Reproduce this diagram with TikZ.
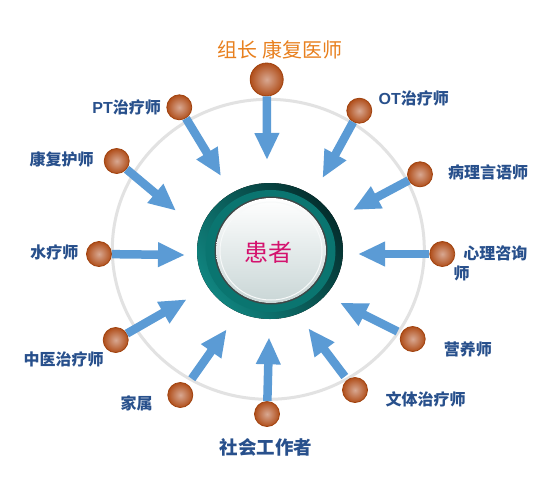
\documentclass[tikz,border=0pt]{standalone}
\usepackage{fontspec}
\newfontfamily\cjk{Noto Sans CJK SC}
\newfontfamily\lat{Liberation Sans}
\usetikzlibrary{arrows.meta}
\definecolor{txtblue}{HTML}{28508C}
\definecolor{arrblue}{HTML}{5B9BD5}
\definecolor{ringgray}{HTML}{E2E2E2}
\definecolor{ttl}{HTML}{E8801E}
\definecolor{ballin}{HTML}{D8A892}
\definecolor{ballout}{HTML}{B04E1A}
\definecolor{ballrim}{HTML}{A0420E}
\definecolor{tealA}{HTML}{10847F}
\definecolor{tealB}{HTML}{042E2D}
\definecolor{tealC}{HTML}{0A7570}
\definecolor{discring}{HTML}{3E4848}
\definecolor{discbot}{HTML}{C9D6D6}
\definecolor{pink}{HTML}{D4126E}
\begin{document}
\begin{tikzpicture}[x=1pt,y=-1pt,
  ball/.style={circle, inner sep=0pt, minimum size=25pt, inner color=ballin, outer color=ballout, draw=ballrim, line width=0.8pt},
  bigball/.style={ball, minimum size=33pt},
  lbl/.style={text=txtblue, font=\cjk\bfseries\fontsize{16}{19}\selectfont, inner sep=0pt, align=left},
  arr/.style={draw=arrblue, line width=8.5pt, -{Triangle[length=27pt,width=23pt]}},
]
\useasboundingbox (0,0) rectangle (554,480);
\fill[white] (0,0) rectangle (554,480);

% outer gray ring
\draw[ringgray, line width=3pt] (268.3,249.3) ellipse [x radius=156pt, y radius=150pt];

% centre disc
\fill[left color=tealA, middle color=tealA, right color=tealB, shading angle=125] (270,251) ellipse [x radius=73pt, y radius=68pt];
\fill[tealC] (270.5,251) ellipse [x radius=65pt, y radius=61pt];
\fill[discring] (271,250.5) ellipse [x radius=56.5pt, y radius=54pt];
\fill[top color=white, middle color=white!90!discbot, bottom color=discbot] (271,250.5) ellipse [x radius=55pt, y radius=52.5pt];
\draw[white!85!discbot, line width=1pt] (271,251) ellipse [x radius=51pt, y radius=49pt];
\node[text=pink, font=\cjk\fontsize{24}{28}\selectfont, inner sep=0pt] (pat) at (268,252) {患者};

% balls
\node[bigball] (top) at (266.7,79.5) {};
\node[ball] (pt) at (179.3,107.3) {};
\node[ball] (kf) at (116.7,161) {};
\node[ball] (sl) at (99,254) {};
\node[ball] (ot) at (359.3,110.7) {};
\node[ball] (bl) at (420,174.3) {};
\node[ball] (xl) at (442.3,254) {};
\node[ball] (zy) at (115.7,340) {};
\node[ball] (js) at (180.3,395) {};
\node[ball] (sh) at (267,414) {};
\node[ball] (yy) at (412.7,339) {};
\node[ball] (wt) at (355,390) {};

% arrow tips
\coordinate (ttop) at (267,160);
\coordinate (tpt) at (221,176);
\coordinate (tkf) at (176,210.7);
\coordinate (tsl) at (185,255);
\coordinate (tot) at (322.5,178);
\coordinate (tbl) at (353,210);
\coordinate (txl) at (358,254);
\coordinate (tzy) at (186.7,299.3);
\coordinate (tjs) at (226.7,329.3);
\coordinate (tsh) at (269,337.3);
\coordinate (tyy) at (340,302.7);
\coordinate (twt) at (308.3,328.3);

\draw[arr] (top) -- (ttop);
\draw[arr] (pt) -- (tpt);
\draw[arr] (kf) -- (tkf);
\draw[arr] (sl) -- (tsl);
\draw[arr] (ot) -- (tot);
\draw[arr] (bl) -- (tbl);
\draw[arr] (xl) -- (txl);
\draw[arr] (zy) -- (tzy);
\draw[arr, shorten <=7pt] (js) -- (tjs);
\draw[arr] (sh) -- (tsh);
\draw[arr, shorten <=4pt] (yy) -- (tyy);
\draw[arr, shorten <=4pt] (wt) -- (twt);

% labels
\node[text=ttl, font=\cjk\fontsize{20}{24}\selectfont, inner sep=0pt] (title) at (280,50) {组长 康复医师};
\node[lbl] (lpt) at (126.7,107.5) {{\lat\bfseries PT}治疗师};
\node[lbl] (lkf) at (61.7,159.5) {康复护师};
\node[lbl] (lsl) at (54.5,252.5) {水疗师};
\node[lbl] (lot) at (413.8,98.5) {{\lat\bfseries OT}治疗师};
\node[lbl] (lbl) at (488,172.5) {病理言语师};
\node[lbl] (lxl) at (495.3,253.3) {心理咨询};
\node[lbl] (lxl2) at (461.7,273.3) {师};
\node[lbl] (lzy) at (63.7,359) {中医治疗师};
\node[lbl] (ljs) at (136.7,403.3) {家属};
\node[lbl, font=\cjk\bfseries\fontsize{18.5}{22}\selectfont] (lsh) at (265.8,447.5) {社会工作者};
\node[lbl] (lyy) at (467.8,349) {营养师};
\node[lbl] (lwt) at (425.5,399) {文体治疗师};
\end{tikzpicture}
\end{document}
